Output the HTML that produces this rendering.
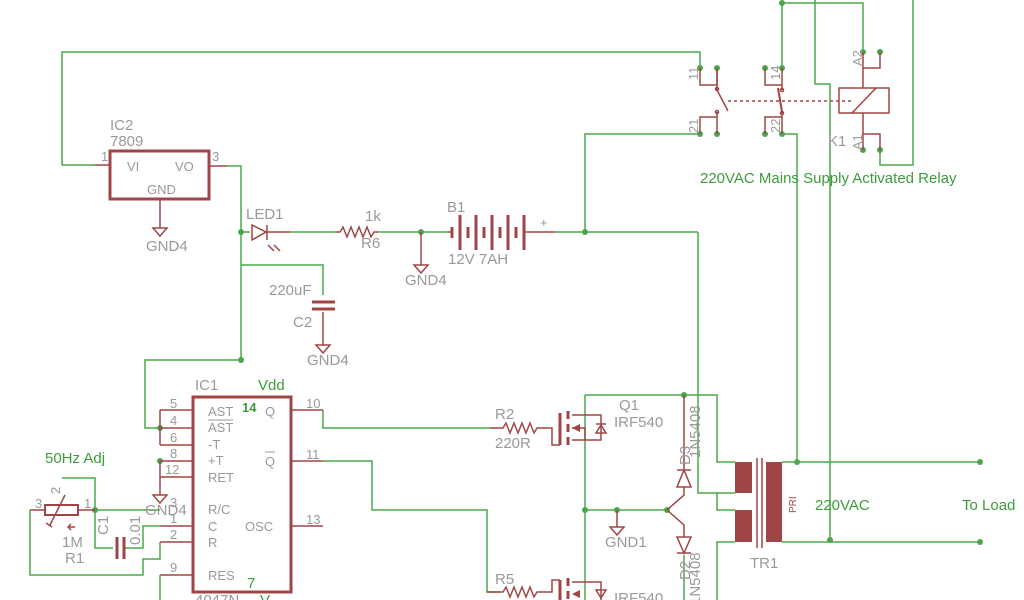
<!DOCTYPE html>
<html><head><style>
html,body{margin:0;padding:0;background:#fff;}
svg{display:block;}
text{font-family:"Liberation Sans",sans-serif;}
.w{stroke:#4aa84a;stroke-width:1.5;fill:none;}
.r{stroke:#a04545;stroke-width:1.5;fill:none;}
.rb{stroke:#a04545;stroke-width:3;fill:none;}
.t{fill:#999;font-size:15px;}
.ts{fill:#999;font-size:13px;}
.g{fill:#3c9c3c;font-size:15px;}
.n{fill:#4aa84a;}
</style></head><body>
<svg width="1024" height="600" viewBox="0 0 1024 600" xmlns="http://www.w3.org/2000/svg">
<g class="w">
<polyline points="95,165 62,165 62,52 700,52 700,68"/>
<polyline points="227,166 241,166 241,360"/>
<polyline points="241,265 323,265 323,295"/>
<polyline points="241,360 145,360 145,428 160,428"/>
<line x1="241" y1="232" x2="250" y2="232"/>
<line x1="290" y1="232" x2="335" y2="232"/>
<line x1="378" y1="232" x2="447" y2="232"/>
<line x1="555" y1="232" x2="698" y2="232"/>
<polyline points="585,232 585,134 700,134"/>
<polyline points="698,232 698,493 735,493"/>
<polyline points="782,68 782,3 863,3 863,52"/>
<polyline points="815,0 815,84 830,84 830,540"/>
<polyline points="782,134 797,134 797,462"/>
<polyline points="880,150 880,165 913,165 913,0"/>
<polyline points="782,462 980,462"/>
<polyline points="782,542 980,542"/>
<polyline points="323,410 323,428 490,428"/>
<polyline points="323,461 372,461 372,510 487,510 487,592 500,592"/>
<polyline points="585,395 585,600"/>
<polyline points="585,395 717,395 717,462 735,462"/>
<polyline points="717,493 717,510 735,510"/>
<polyline points="735,542 717,542 717,600"/>
<polyline points="585,510 667,510"/>
<polyline points="62,478 95,478 95,548 113,548"/>
<polyline points="125,548 143,548 143,526 160,526"/>
<polyline points="30,510 30,575 143,575 143,559 160,559 160,542"/>
<polyline points="95,510 160,510"/>
<polyline points="160,575 160,600"/>
<line x1="684" y1="555" x2="684" y2="600"/>
</g>
<g class="n">
<circle cx="241" cy="232" r="3"/><circle cx="421" cy="232" r="3"/><circle cx="585" cy="232" r="3"/>
<circle cx="241" cy="360" r="3"/><circle cx="160" cy="428" r="3"/><circle cx="160" cy="461" r="3"/>
<circle cx="95" cy="510" r="3"/><circle cx="585" cy="510" r="3"/><circle cx="617" cy="510" r="3"/><circle cx="667" cy="510" r="3"/>
<circle cx="684" cy="395" r="3"/><circle cx="797" cy="462" r="3"/><circle cx="830" cy="540" r="3"/>
<circle cx="980" cy="462" r="3"/><circle cx="980" cy="542" r="3"/>
<circle cx="700" cy="68" r="3"/><circle cx="717" cy="68" r="3"/><circle cx="700" cy="134" r="3"/><circle cx="717" cy="134" r="3"/>
<circle cx="765" cy="68" r="3"/><circle cx="782" cy="68" r="3"/><circle cx="765" cy="134" r="3"/><circle cx="782" cy="134" r="3"/>
<circle cx="782" cy="3" r="3"/><circle cx="863" cy="52" r="3"/><circle cx="880" cy="52" r="3"/><circle cx="863" cy="150" r="3"/><circle cx="880" cy="150" r="3"/>
</g>
<g class="r">
<line x1="95" y1="165" x2="110" y2="165"/><line x1="209" y1="166" x2="227" y2="166"/>
<polyline points="160,199 160,228"/>
<polygon points="153,228 167,228 160,236"/>
<polygon points="252,225 252,240 266,232"/><line x1="267" y1="225" x2="267" y2="240"/>
<line x1="266" y1="232" x2="290" y2="232"/>
<line x1="268" y1="245" x2="274" y2="251"/><line x1="274" y1="245" x2="280" y2="251"/>
<polyline points="335,232 340,232 343,227 347,237 351,227 355,237 359,227 363,237 367,227 371,237 374,232 378,232"/>
<polyline points="421,232 421,265"/><polygon points="414,265 428,265 421,273"/>
<line x1="447" y1="232" x2="452" y2="232"/><line x1="525" y1="232" x2="555" y2="232"/>
<polyline points="323,312 323,345"/><polygon points="316,345 330,345 323,353"/>
<line x1="160" y1="410" x2="193" y2="410"/><line x1="160" y1="428" x2="193" y2="428"/><line x1="160" y1="445" x2="193" y2="445"/>
<line x1="160" y1="410" x2="160" y2="445"/>
<line x1="160" y1="461" x2="193" y2="461"/><line x1="160" y1="477" x2="193" y2="477"/>
<line x1="160" y1="461" x2="160" y2="495"/><polygon points="153,495 167,495 160,503"/>
<line x1="160" y1="526" x2="193" y2="526"/><line x1="160" y1="542" x2="193" y2="542"/><line x1="160" y1="575" x2="193" y2="575"/>
<line x1="291" y1="410" x2="323" y2="410"/><line x1="291" y1="461" x2="323" y2="461"/><line x1="291" y1="526" x2="323" y2="526"/>
<line x1="30" y1="510" x2="45" y2="510"/><line x1="78" y1="510" x2="95" y2="510"/>
<line x1="50" y1="525" x2="65" y2="495"/><line x1="46" y1="523" x2="52" y2="527"/>
<polyline points="75,527 68,527"/><polyline points="71,524 68,527 71,530"/>
<polyline points="490,428 503,428 506,423 510,433 514,423 518,433 522,423 526,433 530,423 534,433 537,428 552,428 552,445 560,445"/>
<polyline points="487,592 503,592 506,587 510,597 514,587 518,597 522,587 526,597 530,587 534,597 537,592 552,592 552,580 560,580"/>
<line x1="585" y1="415" x2="572" y2="415"/><line x1="585" y1="440" x2="572" y2="440"/>
<polyline points="585,415 601,415 601,440 585,440"/>
<polygon points="596,433 606,433 601,425"/><line x1="596" y1="424" x2="606" y2="424"/>
<polyline points="572,428 585,428 585,440"/>
<line x1="585" y1="582" x2="572" y2="582"/>
<polyline points="585,582 601,582 601,600"/>
<polygon points="596,590 606,590 601,598"/>
<polyline points="617,510 617,527"/><polygon points="610,527 624,527 617,535"/>
<polyline points="667,510 684,495 684,487"/>
<polygon points="677,487 691,487 684,470"/><line x1="677" y1="470" x2="691" y2="470"/>
<line x1="684" y1="470" x2="684" y2="395"/>
<polyline points="667,510 684,525 684,537"/>
<polygon points="677,537 691,537 684,553"/><line x1="677" y1="553" x2="691" y2="553"/>
<line x1="757" y1="458" x2="757" y2="548"/><line x1="762" y1="458" x2="762" y2="548"/>
<polyline points="700,68 700,85 717,85 717,68"/>
<polyline points="717,68 717,90"/>
<polyline points="700,134 700,117 717,117 717,134 717,112"/>
<polyline points="765,68 765,85 782,85 782,68 782,90"/>
<polyline points="765,134 765,117 782,117 782,134 782,112"/>
<polyline points="863,52 863,68 880,68 880,52"/>
<polyline points="863,68 863,88"/>
<polyline points="863,150 863,134 880,134 880,150"/>
<polyline points="863,134 863,113"/>
<rect x="839" y="88" width="50" height="25"/>
<line x1="852" y1="113" x2="876" y2="88"/>
<line x1="717" y1="90" x2="728" y2="111"/>
<line x1="782" y1="112" x2="778" y2="88" style="stroke-width:2"/>
<line x1="728" y1="101" x2="852" y2="101" stroke-dasharray="3,3"/>
<circle cx="717" cy="89" r="1.5"/><circle cx="717" cy="112" r="1.5"/><circle cx="782" cy="90" r="1.5"/><circle cx="782" cy="113" r="1.5"/>
</g>
<g class="rb">
<rect x="110" y="151" width="99" height="48"/>
<rect x="193" y="397" width="98" height="195"/>
<rect x="45" y="505" width="33" height="10" style="stroke-width:2"/>
<line x1="117" y1="537" x2="117" y2="559"/><line x1="124" y1="537" x2="124" y2="559"/>
<line x1="312" y1="302" x2="335" y2="302"/><line x1="312" y1="309" x2="335" y2="309"/>
<line x1="452" y1="227" x2="452" y2="238"/><line x1="460" y1="215" x2="460" y2="250"/>
<line x1="468" y1="227" x2="468" y2="238"/><line x1="476" y1="215" x2="476" y2="250"/>
<line x1="484" y1="227" x2="484" y2="238"/><line x1="492" y1="215" x2="492" y2="250"/>
<line x1="500" y1="227" x2="500" y2="238"/><line x1="508" y1="215" x2="508" y2="250"/>
<line x1="516" y1="227" x2="516" y2="238"/><line x1="524" y1="215" x2="524" y2="250"/>
<line x1="560" y1="413" x2="560" y2="445"/><line x1="560" y1="580" x2="560" y2="600"/>
<line x1="568" y1="411" x2="568" y2="419"/><line x1="568" y1="424" x2="568" y2="432"/><line x1="568" y1="437" x2="568" y2="445"/>
<line x1="568" y1="578" x2="568" y2="586"/><line x1="568" y1="591" x2="568" y2="599"/>
</g>
<g fill="#a04545">
<rect x="735" y="462" width="17" height="31"/><rect x="735" y="510" width="17" height="32"/><rect x="766" y="462" width="16" height="80"/>
<polygon points="572,428 580,424 580,432"/><polygon points="572,594 580,590 580,598"/>
</g>
<g class="t">
<text x="110" y="130">IC2</text><text x="110" y="146">7809</text>
<text x="127" y="171" class="ts">VI</text><text x="175" y="171" class="ts">VO</text><text x="147" y="194" class="ts">GND</text>
<text x="101" y="161" class="ts">1</text><text x="212" y="161" class="ts">3</text>
<text x="146" y="251">GND4</text>
<text x="246" y="219">LED1</text><text x="365" y="221">1k</text><text x="361" y="248">R6</text>
<text x="405" y="285">GND4</text><text x="447" y="212">B1</text><text x="448" y="264">12V 7AH</text>
<text x="540" y="227" class="ts">+</text>
<text x="269" y="295">220uF</text><text x="293" y="327">C2</text><text x="307" y="365">GND4</text>
<text x="195" y="390">IC1</text>
<text x="208" y="416" class="ts">AST</text><text x="208" y="432" class="ts">AST</text>
<line x1="208" y1="420" x2="233" y2="420" stroke="#999"/>
<text x="208" y="449" class="ts">-T</text><text x="208" y="465" class="ts">+T</text><text x="208" y="482" class="ts">RET</text>
<text x="208" y="514" class="ts">R/C</text><text x="208" y="531" class="ts">C</text><text x="208" y="547" class="ts">R</text><text x="208" y="580" class="ts">RES</text>
<text x="265" y="416" class="ts">Q</text><text x="265" y="466" class="ts">Q</text><line x1="265" y1="452" x2="275" y2="452" stroke="#999"/>
<text x="245" y="531" class="ts">OSC</text>
<text x="170" y="408" class="ts">5</text><text x="170" y="425" class="ts">4</text><text x="170" y="442" class="ts">6</text>
<text x="170" y="458" class="ts">8</text><text x="165" y="474" class="ts">12</text><text x="170" y="507" class="ts">3</text>
<text x="170" y="523" class="ts">1</text><text x="170" y="539" class="ts">2</text><text x="170" y="572" class="ts">9</text>
<text x="306" y="408" class="ts">10</text><text x="306" y="459" class="ts">11</text><text x="306" y="524" class="ts">13</text>
<text x="145" y="515">GND4</text>
<text x="195" y="605">4047N</text>
<text x="35" y="508" class="ts">3</text><text x="84" y="508" class="ts">1</text>
<text x="60" y="494" class="ts" transform="rotate(-90 60 494)">2</text>
<text x="62" y="547">1M</text><text x="65" y="563">R1</text>
<text x="108" y="535" transform="rotate(-90 108 535)">C1</text>
<text x="140" y="545" transform="rotate(-90 140 545)">0.01</text>
<text x="495" y="419">R2</text><text x="495" y="448">220R</text><text x="495" y="584">R5</text>
<text x="619" y="410">Q1</text><text x="614" y="427">IRF540</text><text x="614" y="603">IRF540</text>
<text x="605" y="547">GND1</text>
<text x="690" y="465" transform="rotate(-90 690 465)">D3</text>
<text x="700" y="458" transform="rotate(-90 700 458)">1N5408</text>
<text x="690" y="580" transform="rotate(-90 690 580)">D2</text>
<text x="700" y="605" transform="rotate(-90 700 605)">1N5408</text>
<text x="750" y="568">TR1</text>
<text x="828" y="146">K1</text>
<text x="698" y="80" class="ts" transform="rotate(-90 698 80)">11</text>
<text x="698" y="133" class="ts" transform="rotate(-90 698 133)">21</text>
<text x="780" y="80" class="ts" transform="rotate(-90 780 80)">14</text>
<text x="780" y="133" class="ts" transform="rotate(-90 780 133)">22</text>
<text x="862" y="66" class="ts" transform="rotate(-90 862 66)">A2</text>
<text x="862" y="150" class="ts" transform="rotate(-90 862 150)">A1</text>
</g>
<g fill="#a04545" font-size="10">
<text x="749" y="484" transform="rotate(-90 749 484)">S1</text>
<text x="749" y="532" transform="rotate(-90 749 532)">S2</text>
<text x="796" y="513" transform="rotate(-90 796 513)">PRI</text>
</g>
<g class="g">
<text x="258" y="390">Vdd</text><text x="242" y="412" font-weight="bold" font-size="13">14</text>
<text x="247" y="588">7</text><text x="260" y="605">V</text>
<text x="45" y="463">50Hz Adj</text>
<text x="700" y="183">220VAC Mains Supply Activated Relay</text>
<text x="815" y="510">220VAC</text><text x="962" y="510">To Load</text>
</g>
</svg>
</body></html>
